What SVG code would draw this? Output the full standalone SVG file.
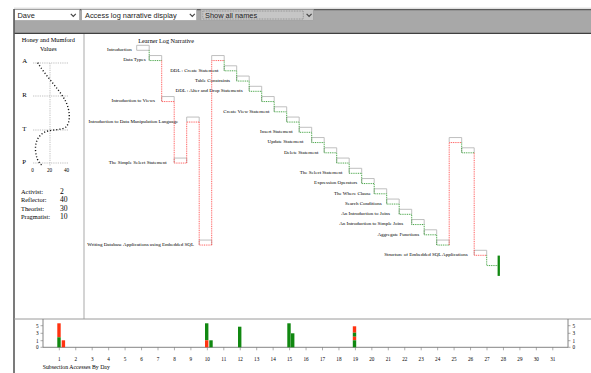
<svg xmlns="http://www.w3.org/2000/svg" width="591" height="373" viewBox="0 0 591 373">
<style>
.lbl{font-family:"Liberation Serif","Times New Roman",serif;font-size:5px;fill:#000;text-anchor:end}
.ser{font-family:"Liberation Serif","Times New Roman",serif;fill:#000}
.ui{font-family:"Liberation Sans",Arial,sans-serif;font-size:7.4px;fill:#222}
.box{fill:none;stroke:#b8b8b8;stroke-width:0.9}
.g{fill:none;stroke:#2f9a2f;stroke-width:0.9;stroke-dasharray:1 0.8}
.r{fill:none;stroke:#ff4a4a;stroke-width:0.9;stroke-dasharray:1 0.8}
.grid{fill:none;stroke:#a0a0a0;stroke-width:0.8;stroke-dasharray:0.8 1}
.ax{font-family:"Liberation Serif","Times New Roman",serif;font-size:5.2px;fill:#000;text-anchor:middle}
.bR{fill:#ff3311}
.bG{fill:#118811}
.chev{fill:none;stroke:#444;stroke-width:1.2}
</style>
<rect x="0" y="0" width="591" height="373" fill="#fff"/>
<g id="toolbar">
<rect x="14" y="9.5" width="577" height="24" fill="#a8a8a8"/>
<line x1="14" y1="8.2" x2="591" y2="8.2" stroke="#c8c8c8" stroke-width="0.8"/>
<line x1="14" y1="9.7" x2="591" y2="9.7" stroke="#404040" stroke-width="1"/>
<line x1="14" y1="33.3" x2="591" y2="33.3" stroke="#404040" stroke-width="1.2"/>
<g id="sel-name">
<rect x="14.5" y="9.5" width="65" height="11" fill="#fff" stroke="#9a9a9a" stroke-width="0.6"/>
<text class="ui" x="17.5" y="17.8">Dave</text>
<path class="chev" d="M70.8,13.8 L73.3,16.3 L75.8,13.8"/>
</g>
<g id="sel-display">
<rect x="81.7" y="9.5" width="115" height="11" fill="#fff" stroke="#9a9a9a" stroke-width="0.6"/>
<text class="ui" x="85" y="17.8">Access log narrative display</text>
<path class="chev" d="M189.8,13.8 L192.3,16.3 L194.8,13.8"/>
</g>
<g id="sel-names">
<rect x="201" y="9.5" width="112.5" height="11" fill="#c6c6c6" stroke="#9a9a9a" stroke-width="0.6"/>
<rect x="202.8" y="11" width="100.5" height="8" fill="none" stroke="#555" stroke-width="0.5" stroke-dasharray="0.8 0.8"/>
<text class="ui" x="205" y="17.8">Show all names</text>
<path class="chev" d="M306.6,13.8 L309.1,16.3 L311.6,13.8"/>
</g>
</g>
<g id="frame">
<line x1="14" y1="9" x2="14" y2="373" stroke="#5a5a5a" stroke-width="1.6"/>
<line x1="84" y1="34" x2="84" y2="319" stroke="#b8b8b8" stroke-width="1.2"/>
<line x1="14" y1="319" x2="591" y2="319" stroke="#9a9a9a" stroke-width="1"/>
</g>
<g id="hm-panel">
<text class="ser" x="48.3" y="41.7" font-size="6.3" text-anchor="middle">Honey and Mumford</text>
<text class="ser" x="48.3" y="51.2" font-size="6.3" text-anchor="middle">Values</text>
<path class="grid" d="M33,63 H68 M33,96 H68 M33,130 H68 M33,163 H68 M50,63 V166"/>
<text class="ser" x="22.3" y="62.7" font-size="6.8">A</text>
<text class="ser" x="22.3" y="96.7" font-size="6.8">R</text>
<text class="ser" x="22.3" y="131" font-size="6.8">T</text>
<text class="ser" x="22.3" y="164.3" font-size="6.8">P</text>
<path d="M37.7,62.7 C45,75 58,88 65,100 C70,109 71,122 66,127 C62,130 54,129.5 48,131 C40,133 35,140 35.5,150 C36,157 38,162 41.5,165" fill="none" stroke="#111" stroke-width="1.4" stroke-dasharray="1.1 2"/>
<text class="ax" x="32.5" y="172.3">0</text>
<text class="ax" x="49.5" y="172.3">20</text>
<text class="ax" x="66.5" y="172.3">40</text>
<text class="ser" x="21" y="194" font-size="6.4">Activist:</text>
<text class="ser" x="60" y="194" font-size="7.6">2</text>
<text class="ser" x="21" y="202.3" font-size="6.4">Reflector:</text>
<text class="ser" x="60" y="202.3" font-size="7.6">40</text>
<text class="ser" x="21" y="210.5" font-size="6.4">Theorist:</text>
<text class="ser" x="60" y="210.5" font-size="7.6">30</text>
<text class="ser" x="21" y="219" font-size="6.4">Pragmatist:</text>
<text class="ser" x="60" y="219" font-size="7.6">10</text>
</g>
<text class="ser" x="138.3" y="43.2" font-size="6.2">Learner Log Narrative</text>
<g id="nodes">
<g id="t-introduction"><text class="lbl" x="131.7" y="51.1">Introduction</text><path class="box" d="M136.7,50.3 v-5 h12.5 v5 z"/></g>
<g id="t-data-types"><text class="lbl" x="145.7" y="61.3">Data Types</text><path class="box" d="M149.2,60.55 v-5 h12.5 v5 M211.7,60.55 v-5 h12.5 v5"/></g>
<g id="t-ddl-create"><text class="lbl" x="218.5" y="71.6">DDL : Create Statement</text><path class="box" d="M224.2,70.8 v-5 h12.5 v5"/></g>
<g id="t-table-constraints"><text class="lbl" x="230" y="81.8">Table Constraints</text><path class="box" d="M236.7,81.05 v-5 h12.5 v5"/></g>
<g id="t-ddl-alter"><text class="lbl" x="242.7" y="92.1">DDL : Alter and Drop Statements</text><path class="box" d="M249.2,91.3 v-5 h12.5 v5"/></g>
<g id="t-intro-views"><text class="lbl" x="155" y="102.3">Introduction to Views</text><path class="box" d="M161.7,101.55 v-5 h12.5 v5 M261.7,101.55 v-5 h12.5 v5"/></g>
<g id="t-create-view"><text class="lbl" x="269.3" y="112.6">Create View Statement</text><path class="box" d="M274.2,111.8 v-5 h12.5 v5"/></g>
<g id="t-intro-dml"><text class="lbl" x="178.3" y="122.8">Introduction to Data Manipulation Language</text><path class="box" d="M186.7,122.05 v-5 h12.5 v5 M286.7,122.05 v-5 h12.5 v5"/></g>
<g id="t-insert"><text class="lbl" x="292.7" y="133.1">Insert Statement</text><path class="box" d="M299.2,132.3 v-5 h12.5 v5"/></g>
<g id="t-update"><text class="lbl" x="303.3" y="143.3">Update Statement</text><path class="box" d="M311.7,142.55 v-5 h12.5 v5 M449.2,142.55 v-5 h12.5 v5"/></g>
<g id="t-delete"><text class="lbl" x="318.3" y="153.6">Delete Statement</text><path class="box" d="M324.2,152.8 v-5 h12.5 v5 M461.7,152.8 v-5 h12.5 v5"/></g>
<g id="t-simple-select"><text class="lbl" x="166.7" y="163.8">The Simple Select Statement</text><path class="box" d="M174.2,163.05 v-5 h12.5 v5 M336.7,163.05 v-5 h12.5 v5"/></g>
<g id="t-select"><text class="lbl" x="342.3" y="174.1">The Select Statement</text><path class="box" d="M349.2,173.3 v-5 h12.5 v5"/></g>
<g id="t-expression"><text class="lbl" x="357.3" y="184.3">Expression Operators</text><path class="box" d="M361.7,183.55 v-5 h12.5 v5"/></g>
<g id="t-where"><text class="lbl" x="371" y="194.6">The Where Clause</text><path class="box" d="M374.2,193.8 v-5 h12.5 v5"/></g>
<g id="t-search"><text class="lbl" x="381.7" y="204.8">Search Conditions</text><path class="box" d="M386.7,204.05 v-5 h12.5 v5"/></g>
<g id="t-joins"><text class="lbl" x="390" y="215.1">An Introduction to Joins</text><path class="box" d="M399.2,214.3 v-5 h12.5 v5"/></g>
<g id="t-simple-joins"><text class="lbl" x="403.3" y="225.3">An Introduction to Simple Joins</text><path class="box" d="M411.7,224.55 v-5 h12.5 v5"/></g>
<g id="t-aggregate"><text class="lbl" x="419.3" y="235.6">Aggregate Functions</text><path class="box" d="M424.2,234.8 v-5 h12.5 v5"/></g>
<g id="t-writing"><text class="lbl" x="194" y="245.8">Writing Database Applications using Embedded SQL</text><path class="box" d="M199.2,245.05 v-5 h12.5 v5 M436.7,245.05 v-5 h12.5 v5"/></g>
<g id="t-structure"><text class="lbl" x="467.7" y="256.1">Structure of Embedded SQL Applications</text><path class="box" d="M474.2,255.3 v-5 h12.5 v5"/></g>
<g id="t-current"><rect x="497.6" y="255.6" width="2.3" height="20.3" fill="#118811"/></g>
</g>
<g id="connectors">
<path class="g" d="M149.2,50.3 V60.55 H161.7"/>
<path class="r" d="M161.7,60.55 V101.55 H174.2"/>
<path class="r" d="M174.2,101.55 V163.05 H186.7"/>
<path class="r" d="M186.7,163.05 V122.05 H199.2"/>
<path class="r" d="M199.2,122.05 V245.05 H211.7"/>
<path class="r" d="M211.7,245.05 V60.55 H224.2"/>
<path class="g" d="M224.2,60.55 V70.8 H236.7 V81.05 H249.2 V91.3 H261.7 V101.55 H274.2 V111.8 H286.7 V122.05 H299.2 V132.3 H311.7 V142.55 H324.2 V152.8 H336.7 V163.05 H349.2 V173.3 H361.7 V183.55 H374.2 V193.8 H386.7 V204.05 H399.2 V214.3 H411.7 V224.55 H424.2 V234.8 H436.7 V245.05 H449.2"/>
<path class="r" d="M449.2,245.05 V142.55 H461.7"/>
<path class="g" d="M461.7,142.55 V152.8 H474.2"/>
<path class="r" d="M474.2,152.8 V255.3 H486.7"/>
<path class="g" d="M486.7,255.3 V265.55 H498"/>
</g>
<g id="chart">
<path d="M43,319 V347.3 H568 V319" fill="none" stroke="#777" stroke-width="0.9"/>
<path d="M40.5,325.7 H43 M40.5,333.3 H43 M40.5,340.7 H43 M40.5,347.3 H43 M568,325.7 H570.5 M568,333.3 H570.5 M568,340.7 H570.5 M568,347.3 H570.5" stroke="#777" stroke-width="0.6"/>
<g class="ser" font-size="5.2">
<text x="36" y="327.5">5</text><text x="36" y="335.1">3</text><text x="36" y="342.5">1</text><text x="36" y="349.1">0</text>
<text x="572.5" y="327.5">5</text><text x="572.5" y="335.1">3</text><text x="572.5" y="342.5">1</text><text x="572.5" y="349.1">0</text>
</g>
<path d="M59.3,347.3v3 M75.75,347.3v3 M92.2,347.3v3 M108.65,347.3v3 M125.1,347.3v3 M141.55,347.3v3 M158,347.3v3 M174.45,347.3v3 M190.9,347.3v3 M207.35,347.3v3 M223.8,347.3v3 M240.25,347.3v3 M256.7,347.3v3 M273.15,347.3v3 M289.6,347.3v3 M306.05,347.3v3 M322.5,347.3v3 M338.95,347.3v3 M355.4,347.3v3 M371.85,347.3v3 M388.3,347.3v3 M404.75,347.3v3 M421.2,347.3v3 M437.65,347.3v3 M454.1,347.3v3 M470.55,347.3v3 M487,347.3v3 M503.45,347.3v3 M519.9,347.3v3 M536.35,347.3v3 M552.8,347.3v3" stroke="#777" stroke-width="0.6"/>
<g class="ax">
<text x="59.3" y="360.8">1</text><text x="75.75" y="360.8">2</text><text x="92.2" y="360.8">3</text><text x="108.65" y="360.8">4</text><text x="125.1" y="360.8">5</text><text x="141.55" y="360.8">6</text><text x="158" y="360.8">7</text><text x="174.45" y="360.8">8</text><text x="190.9" y="360.8">9</text><text x="207.35" y="360.8">10</text><text x="223.8" y="360.8">11</text><text x="240.25" y="360.8">12</text><text x="256.7" y="360.8">13</text><text x="273.15" y="360.8">14</text><text x="289.6" y="360.8">15</text><text x="306.05" y="360.8">16</text><text x="322.5" y="360.8">17</text><text x="338.95" y="360.8">18</text><text x="355.4" y="360.8">19</text><text x="371.85" y="360.8">20</text><text x="388.3" y="360.8">21</text><text x="404.75" y="360.8">22</text><text x="421.2" y="360.8">23</text><text x="437.65" y="360.8">24</text><text x="454.1" y="360.8">25</text><text x="470.55" y="360.8">26</text><text x="487" y="360.8">27</text><text x="503.45" y="360.8">28</text><text x="519.9" y="360.8">29</text><text x="536.35" y="360.8">30</text><text x="552.8" y="360.8">31</text>
</g>
<text class="ser" x="42.7" y="368.6" font-size="5.8">Subsection Accesses By Day</text>
<rect class="bR" x="57.3" y="323.3" width="3.4" height="14"/>
<rect class="bG" x="57.3" y="337.3" width="3.4" height="10"/>
<rect class="bR" x="61.7" y="340.3" width="3.4" height="7"/>
<rect class="bG" x="205" y="323.3" width="3.4" height="17"/>
<rect class="bR" x="205" y="340.3" width="3.4" height="7"/>
<rect class="bG" x="209.3" y="340.3" width="3.4" height="7"/>
<rect class="bG" x="238" y="326.7" width="3.4" height="20.6"/>
<rect class="bG" x="287.3" y="323.3" width="3.4" height="24"/>
<rect class="bG" x="291" y="333.3" width="3.4" height="14"/>
<rect class="bR" x="352.8" y="326.3" width="3.4" height="6.4"/>
<rect class="bG" x="352.8" y="332.7" width="3.4" height="4"/>
<rect class="bR" x="352.8" y="336.7" width="3.4" height="3.6"/>
<rect class="bG" x="352.8" y="340.3" width="3.4" height="7"/>
</g>
</svg>
